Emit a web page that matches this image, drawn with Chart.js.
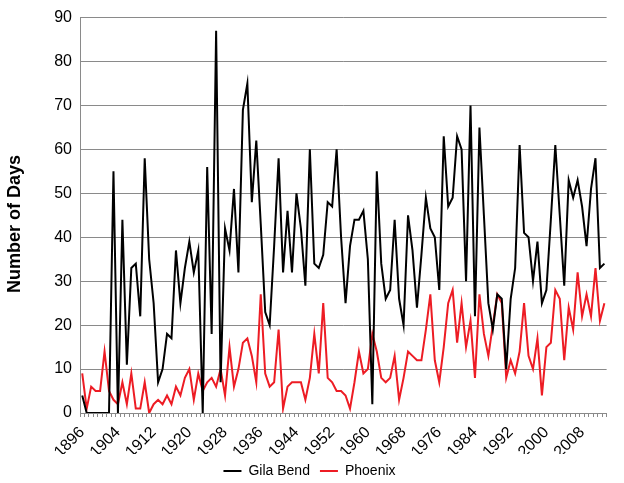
<!DOCTYPE html>
<html>
<head>
<meta charset="utf-8">
<script src="https://cdn.jsdelivr.net/npm/chart.js@4"></script>
<style>
  html, body { margin: 0; padding: 0; background: #fff; }
  #wrap { width: 624px; height: 483px; }
</style>
</head>
<body>
<div id="wrap"><canvas id="heatChart" width="624" height="483"></canvas></div>
<script>
// years 1896 - 2013
const firstYear = 1896;
const lastYear = 2013;
const years = [];
for (let y = firstYear; y <= lastYear; y++) years.push(String(y));

// days per year
const gilaBend = [
  4, 0, 0, 0, 0, 0, 0, 55, 0, 44,
  11, 33, 34, 22, 58, 35, 25, 7, 10, 18,
  17, 37, 25, 33, 39, 32, 37, 0, 56, 18,
  87, 7, 42, 37, 51, 32, 69, 75, 48, 62,
  43, 23, 20, 38, 58, 32, 46, 32, 50, 42,
  29, 60, 34, 33, 36, 48, 47, 60, 40, 25,
  38, 44, 44, 46, 35, 2, 55, 34, 26, 28,
  44, 26, 20, 45, 37, 24, 36, 49, 42, 40,
  28, 63, 47, 49, 63, 60, 30, 70, 22, 65,
  45, 25, 19, 27, 26, 10, 26, 33, 61, 41,
  40, 30, 39, 25, 28, 44, 61, 45, 29, 53,
  49, 53, 47, 38, 51, 58, 33, 34
];
const phoenix = [
  9, 1, 6, 5, 5, 14, 5, 3, 2, 7,
  2, 9, 1, 1, 7, 0, 2, 3, 2, 4,
  2, 6, 4, 8, 10, 3, 9, 5, 7, 8,
  6, 10, 4, 15, 6, 10, 16, 17, 13, 7,
  27, 9, 6, 7, 19, 1, 6, 7, 7, 7,
  3, 8, 18, 9, 25, 8, 7, 5, 5, 4,
  1, 7, 14, 9, 10, 18, 14, 8, 7, 8,
  13, 3, 8, 14, 13, 12, 12, 19, 27, 12,
  7, 15, 25, 28, 16, 25, 15, 21, 8, 27,
  18, 13, 20, 27, 25, 8, 12, 9, 14, 25,
  13, 10, 17, 4, 15, 16, 28, 26, 12, 24,
  19, 32, 22, 27, 22, 33, 21, 25
];
const yTicks = [0, 10, 20, 30, 40, 50, 60, 70, 80, 90];
const labelEvery = 8;
const yTitle = 'Number of Days';

const fontFam = "'Liberation Sans', Arial, sans-serif";
const gridGray = '#8a8a8a';

// y axis title sits a bit below the middle of the plot in the original
const yTitlePlugin = {
    id: 'yTitle',
    afterDraw(chart) {
        const c = chart.ctx;
        c.save();
        c.translate(15, 224);
        c.rotate(-Math.PI / 2);
        c.font = 'bold 18px ' + fontFam;
        c.fillStyle = '#000';
        c.textAlign = 'center';
        c.textBaseline = 'middle';
        c.fillText(yTitle, 0, 0);
        c.restore();
    }
};

let ctx = document.getElementById('heatChart').getContext('2d');
let chart = new Chart(ctx, {
    type: 'line',
    data: {
        labels: years,
        datasets: [{
            label: 'Gila Bend',
            data: gilaBend,
            borderColor: '#000000',
            backgroundColor: '#000000',
            borderWidth: 2,
            pointRadius: 0,
            tension: 0
        }, {
            label: 'Phoenix',
            data: phoenix,
            borderColor: '#ed1c24',
            backgroundColor: '#ed1c24',
            borderWidth: 2,
            pointRadius: 0,
            tension: 0
        }]
    },
    options: {
        responsive: false,
        animation: false,
        layout: { padding: { top: 17, right: 5, left: 0, bottom: -5 } },
        plugins: {
            tooltip: { enabled: false },
            legend: {
                position: 'bottom',
                labels: {
                    usePointStyle: true,
                    pointStyle: 'line',
                    pointStyleWidth: 18,
                    padding: 10,
                    color: '#000',
                    font: { family: fontFam, size: 14 }
                }
            }
        },
        scales: {
            x: {
                type: 'category',
                offset: true,
                grid: {
                    offset: true,
                    drawOnChartArea: false,
                    drawTicks: true,
                    tickLength: 4,
                    color: gridGray
                },
                border: { color: gridGray, width: 1 },
                ticks: {
                    autoSkip: false,
                    maxRotation: 45,
                    minRotation: 45,
                    padding: 6,
                    color: '#000',
                    font: { family: fontFam, size: 16 },
                    callback: function (val, i) {
                        return i % labelEvery === 0 ? years[i] : '';
                    }
                },
                afterFit: function (scale) { scale.height = 41; }
            },
            y: {
                min: yTicks[0],
                max: yTicks[yTicks.length - 1],
                afterBuildTicks: function (scale) {
                    scale.ticks = yTicks.map(v => ({ value: v }));
                },
                grid: { color: gridGray, drawTicks: false },
                border: { color: gridGray, width: 1 },
                ticks: {
                    padding: 8,
                    color: '#000',
                    font: { family: fontFam, size: 16 }
                },
                afterFit: function (scale) { scale.width = 80; }
            }
        }
    },
    plugins: [yTitlePlugin]
});
</script>
</body>
</html>
